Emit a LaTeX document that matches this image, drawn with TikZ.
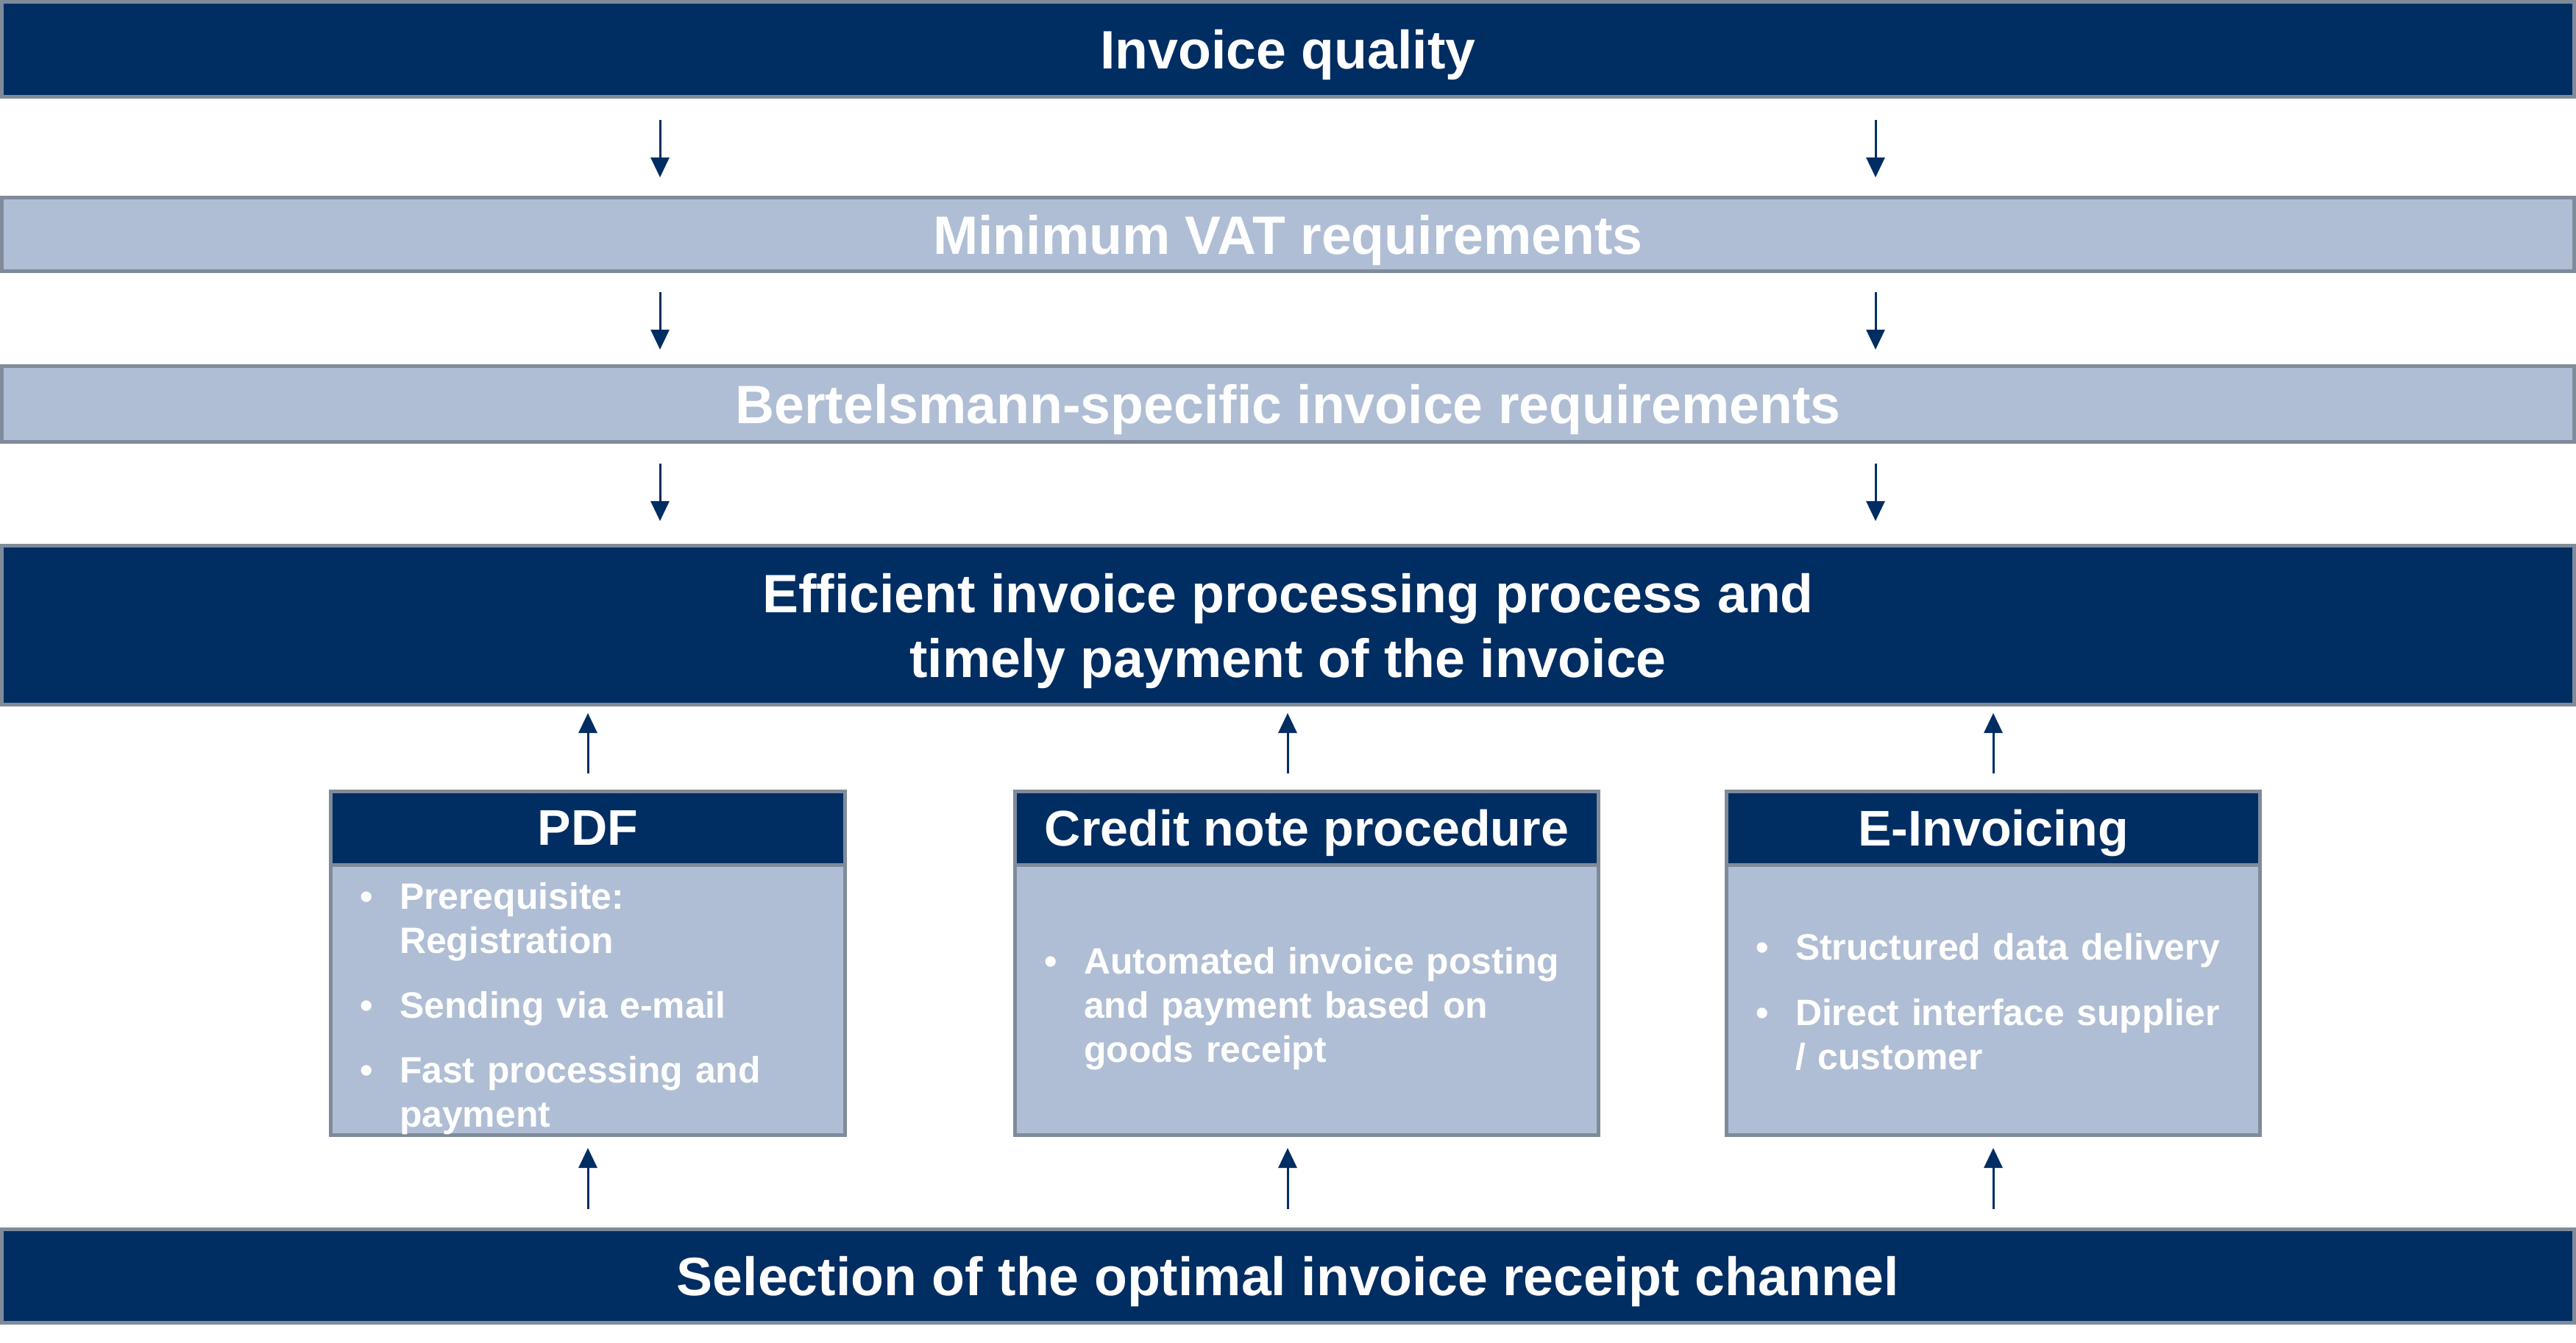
\documentclass[tikz,border=0pt]{standalone}
\usepackage{fontspec}
\setmainfont{Liberation Sans}
\usepackage{enumitem}
\usetikzlibrary{positioning, arrows.meta}
\definecolor{navy}{RGB}{0,45,98}
\definecolor{paleblue}{RGB}{175,190,212}
\definecolor{rimgray}{RGB}{127,139,154}
\setlist[itemize]{label=\textbullet, leftmargin=0.54cm, labelwidth=0.54cm, labelsep=0pt, align=left, topsep=0pt, partopsep=0pt, parsep=0pt, itemsep=0.28cm}

\begin{document}
\begin{tikzpicture}[
            node distance=1.3cm,
            every node/.style={font=\bfseries, text=white},
            % Estilos
            bardark/.style={rectangle, draw=rimgray, line width=0.05cm, fill=navy, minimum width=34.96cm, inner sep=1pt, text depth=0pt, align=center, font=\fontsize{20.9}{25}\selectfont\bfseries},
            barlight/.style={bardark, fill=paleblue},
            boxhead/.style={rectangle, draw=rimgray, line width=0.05cm, fill=navy, minimum height=1.00cm, inner sep=1pt, outer sep=0pt, text depth=0pt, font=\fontsize{19.4}{23}\selectfont\bfseries},
            boxbody/.style={rectangle, draw=rimgray, line width=0.05cm, fill=paleblue, minimum height=3.67cm, inner xsep=0.395cm, inner ysep=0pt, outer sep=0pt, align=left, font=\fontsize{14.2}{17.1}\selectfont\bfseries},
            arrow/.style={draw=navy, line width=0.03cm, -{Triangle[width=0.25cm, length=0.27cm]}}
        ]
            \useasboundingbox (0,0) rectangle (35.01,-18.24);

            % --- Barras ---
            \node (quality) [bardark, minimum height=1.29cm, anchor=north west] at (0,0) {Invoice quality};

            \node (vat) [barlight, minimum height=1.00cm, below=1.32cm of quality] {Minimum VAT requirements};

            \node (bertel) [barlight, minimum height=1.03cm, below=1.24cm of vat] {Bertelsmann-specific invoice requirements};

            \node (efficient) [bardark, minimum height=2.16cm, below=1.36cm of bertel] {Efficient invoice processing process and\\ timely payment of the invoice};

            \node (selection) [bardark, minimum height=1.27cm, below=7.08cm of efficient] {Selection of the optimal invoice receipt channel};

            % --- Canales ---
            \node (credithead) [boxhead, minimum width=7.93cm, below=1.15cm of efficient, xshift=0.255cm] {Credit note procedure};
            \node (creditbody) [boxbody, text width=7.14cm, below=0pt of credithead] {%
              \begin{itemize}
                \item Automated invoice posting\\ and payment based on\\ goods receipt
              \end{itemize}};

            \node (pdfhead) [boxhead, minimum width=6.99cm, left=2.31cm of credithead] {PDF};
            \node (pdfbody) [boxbody, text width=6.20cm, below=0pt of pdfhead] {%
              \begin{itemize}
                \item Prerequisite:\\ Registration
                \item Sending via e-mail
                \item Fast processing and\\ payment
              \end{itemize}};

            \node (einvhead) [boxhead, minimum width=7.25cm, right=1.74cm of credithead] {E-Invoicing};
            \node (einvbody) [boxbody, text width=6.46cm, below=0pt of einvhead] {%
              \begin{itemize}
                \item Structured data delivery
                \item Direct interface supplier\\ / customer
              \end{itemize}\vspace{0.18cm}};

            % --- Flechas ---
            \coordinate (leftx) at (8.97,0);
            \coordinate (rightx) at (25.49,0);
            \coordinate (creditx) at ([xshift=-0.26cm]credithead.north);

            \draw [arrow, shorten <=0.29cm, shorten >=0.25cm] (leftx |- quality.south) -- (leftx |- vat.north);
            \draw [arrow, shorten <=0.29cm, shorten >=0.25cm] (rightx |- quality.south) -- (rightx |- vat.north);
            \draw [arrow, shorten <=0.26cm, shorten >=0.20cm] (leftx |- vat.south) -- (leftx |- bertel.north);
            \draw [arrow, shorten <=0.26cm, shorten >=0.20cm] (rightx |- vat.south) -- (rightx |- bertel.north);
            \draw [arrow, shorten <=0.27cm, shorten >=0.31cm] (leftx |- bertel.south) -- (leftx |- efficient.north);
            \draw [arrow, shorten <=0.27cm, shorten >=0.31cm] (rightx |- bertel.south) -- (rightx |- efficient.north);

            \draw [arrow, shorten <=0.24cm, shorten >=0.09cm] (pdfhead.north) -- (pdfhead.north |- efficient.south);
            \draw [arrow, shorten <=0.24cm, shorten >=0.09cm] (creditx) -- (creditx |- efficient.south);
            \draw [arrow, shorten <=0.24cm, shorten >=0.09cm] (einvhead.north) -- (einvhead.north |- efficient.south);

            \draw [arrow, shorten <=0.25cm, shorten >=0.18cm] (pdfbody.south |- selection.north) -- (pdfbody.south);
            \draw [arrow, shorten <=0.25cm, shorten >=0.18cm] (creditx |- selection.north) -- (creditx |- creditbody.south);
            \draw [arrow, shorten <=0.25cm, shorten >=0.18cm] (einvbody.south |- selection.north) -- (einvbody.south);

        \end{tikzpicture}
\end{document}
